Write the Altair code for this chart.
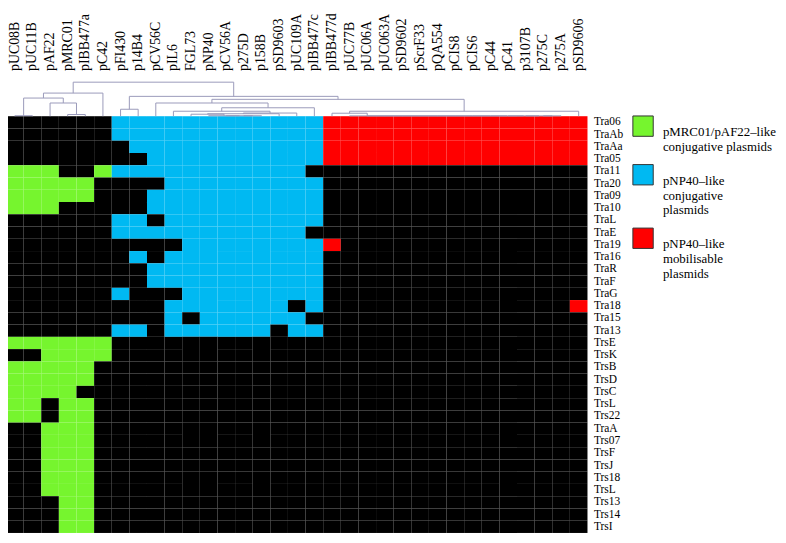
import altair as alt
import pandas as pd

columns = ["pUC08B", "pUC11B", "pAF22", "pMRC01", "pIBB477a", "pC42", "pFI430", "p14B4",
           "pCV56C", "pIL6", "FGL73", "pNP40", "pCV56A", "p275D", "p158B", "pSD9603",
           "pUC109A", "pIBB477c", "pIBB477d", "pUC77B", "pUC06A", "pUC063A", "pSD9602",
           "pScrF33", "pQA554", "pCIS8", "pCIS6", "pC44", "pC41", "p3107B", "p275C",
           "p275A", "pSD9606"]

rows = ["Tra06", "TraAb", "TraAa", "Tra05", "Tra11", "Tra20", "Tra09", "Tra10", "TraL",
        "TraE", "Tra19", "Tra16", "TraR", "TraF", "TraG", "Tra18", "Tra15", "Tra13",
        "TrsE", "TrsK", "TrsB", "TrsD", "TrsC", "TrsL", "Trs22", "TraA", "Trs07", "TrsF",
        "TrsJ", "Trs18", "TrsL", "Trs13", "Trs14", "TrsI"]

# K = absent, G = pMRC01/pAF22-like, B = pNP40-like conjugative, R = pNP40-like mobilisable
cells = [
    "KKKKKK" + "BBBBBBBBBBBB" + "RRRRRRRRRRRRRRR",
    "KKKKKK" + "BBBBBBBBBBBB" + "RRRRRRRRRRRRRRR",
    "KKKKKK" + "KBBBBBBBBBBB" + "RRRRRRRRRRRRRRR",
    "KKKKKK" + "KKBBBBBBBBBB" + "RRRRRRRRRRRRRRR",
    "GGGKKG" + "BBBBBBBBBBBK" + "KKKKKKKKKKKKKKK",
    "GGGGGK" + "KKKBBBBBBBBB" + "KKKKKKKKKKKKKKK",
    "GGGGGK" + "KKBBBBBBBBBB" + "KKKKKKKKKKKKKKK",
    "GGGKKK" + "KKBBBBBBBBBB" + "KKKKKKKKKKKKKKK",
    "KKKKKK" + "BBKBBBBBBBBB" + "KKKKKKKKKKKKKKK",
    "KKKKKK" + "BBBBBBBBBBBK" + "KKKKKKKKKKKKKKK",
    "KKKKKK" + "KKKKBBBBBBBB" + "RKKKKKKKKKKKKKK",
    "KKKKKK" + "KBKBBBBBBBBB" + "KKKKKKKKKKKKKKK",
    "KKKKKK" + "KKBBBBBBBBBB" + "KKKKKKKKKKKKKKK",
    "KKKKKK" + "KKBBBBBBBBBB" + "KKKKKKKKKKKKKKK",
    "KKKKKK" + "BKKKBBBBBBBB" + "KKKKKKKKKKKKKKK",
    "KKKKKK" + "KKKBBBBBBBKB" + "KKKKKKKKKKKKKKR",
    "KKKKKK" + "KKKBKBBBBBBK" + "KKKKKKKKKKKKKKK",
    "KKKKKK" + "BBKBBBBBBKBB" + "KKKKKKKKKKKKKKK",
    "GGGGGG" + "KKKKKKKKKKKK" + "KKKKKKKKKKKKKKK",
    "KKGGGG" + "KKKKKKKKKKKK" + "KKKKKKKKKKKKKKK",
    "GGGGGK" + "KKKKKKKKKKKK" + "KKKKKKKKKKKKKKK",
    "GGGGGK" + "KKKKKKKKKKKK" + "KKKKKKKKKKKKKKK",
    "GGGGKK" + "KKKKKKKKKKKK" + "KKKKKKKKKKKKKKK",
    "GGKGGK" + "KKKKKKKKKKKK" + "KKKKKKKKKKKKKKK",
    "GGKGGK" + "KKKKKKKKKKKK" + "KKKKKKKKKKKKKKK",
    "KKGGGK" + "KKKKKKKKKKKK" + "KKKKKKKKKKKKKKK",
    "KKGGGK" + "KKKKKKKKKKKK" + "KKKKKKKKKKKKKKK",
    "KKGGGK" + "KKKKKKKKKKKK" + "KKKKKKKKKKKKKKK",
    "KKGGGK" + "KKKKKKKKKKKK" + "KKKKKKKKKKKKKKK",
    "KKGGGK" + "KKKKKKKKKKKK" + "KKKKKKKKKKKKKKK",
    "KKGGGK" + "KKKKKKKKKKKK" + "KKKKKKKKKKKKKKK",
    "KKKGGK" + "KKKKKKKKKKKK" + "KKKKKKKKKKKKKKK",
    "KKKGGK" + "KKKKKKKKKKKK" + "KKKKKKKKKKKKKKK",
    "KKKGGK" + "KKKKKKKKKKKK" + "KKKKKKKKKKKKKKK",
]

categories = ["pMRC01/pAF22–like|conjugative plasmids",
              "pNP40–like|conjugative|plasmids",
              "pNP40–like|mobilisable|plasmids",
              "absent"]
codes = ["G", "B", "R", "K"]
palette = ["#76F52E", "#00B9F2", "#FF0000", "#000000"]

# dendrogram merges: (node, left child, right child, height)
merges = [
    ("m01", "c0", "c1", 0.5),
    ("m34", "c3", "c4", 1.7),
    ("mB", "c2", "m34", 13.3),
    ("mA", "m01", "mB", 18.3),
    ("mL", "mA", "c5", 23.3),
    ("m67", "c6", "c7", 7.0),
    ("k3", "c13", "c14", 0.5),
    ("k2", "c12", "k3", 0.5),
    ("k1", "c11", "k2", 0.5),
    ("b1", "c10", "k1", 2.0),
    ("b2", "b1", "c15", 2.5),
    ("b3", "b2", "c16", 3.2),
    ("bZ", "c9", "b3", 5.0),
    ("bY", "bZ", "c17", 8.5),
    ("bR", "c8", "bY", 13.3),
    ("g12", "c30", "c31", 0.4),
    ("g11", "c29", "g12", 0.4),
    ("g10", "c28", "g11", 0.4),
    ("g9", "c27", "g10", 0.4),
    ("g8", "c26", "g9", 0.4),
    ("g7", "c25", "g8", 0.4),
    ("g6", "c24", "g7", 0.4),
    ("g5", "c23", "g6", 0.4),
    ("g4", "c22", "g5", 0.4),
    ("g3", "c21", "g4", 0.4),
    ("g2", "c20", "g3", 0.4),
    ("g1", "c19", "g2", 0.4),
    ("rg", "c18", "g1", 3.0),
    ("red", "rg", "c32", 5.0),
    ("BR", "bR", "red", 17.0),
    ("R", "m67", "BR", 20.0),
    ("root", "mL", "R", 34.3),
]

# ---- build tables ----
code_to_cat = dict(zip(codes, categories))
cell_records = []
for ri, line in enumerate(cells):
    for ci, ch in enumerate(line):
        cell_records.append({"col": columns[ci], "ri": ri, "cat": code_to_cat[ch]})
cells_df = pd.DataFrame(cell_records)

pos = {f"c{i}": i + 0.5 for i in range(len(columns))}
hgt = {f"c{i}": 0.0 for i in range(len(columns))}
segs = []
for node, a, b, h in merges:
    xa, xb = pos[a], pos[b]
    pos[node] = (xa + xb) / 2
    hgt[node] = h
    segs.append({"x": xa, "x2": xb, "y": h, "y2": h})
    segs.append({"x": xa, "x2": xa, "y": hgt[a], "y2": h})
    segs.append({"x": xb, "x2": xb, "y": hgt[b], "y2": h})
segs_df = pd.DataFrame(segs)

W = 586
DH = 35
H = DH + 420
serif = "Liberation Serif"
row_expr = "[" + ",".join(f"'{r}'" for r in rows) + "][datum.value]"

heat = alt.Chart(cells_df).mark_rect().encode(
    x=alt.X("col:N", sort=columns, title=None,
            scale=alt.Scale(paddingInner=0, paddingOuter=0),
            axis=alt.Axis(orient="top", labelAngle=270, labelAlign="left",
                          labelBaseline="middle", labelFont=serif, labelFontSize=14,
                          labelColor="#000000", ticks=False, domain=False,
                          labelPadding=11, labelOverlap=False, labelLimit=0)),
    y=alt.Y("ri:O", title=None,
            scale=alt.Scale(range=[DH, H], paddingInner=0, paddingOuter=0),
            axis=alt.Axis(orient="right", labelExpr=row_expr, labelFont=serif,
                          labelFontSize=11.5, labelColor="#000000", ticks=False,
                          domain=False, labelPadding=6, labelOverlap=False,
                          labelLimit=0)),
    color=alt.Color("cat:N",
                    scale=alt.Scale(domain=categories, range=palette),
                    legend=alt.Legend(orient="none", legendX=631, legendY=DH - 1,
                                      values=categories[:3], title=None,
                                      symbolType="square", symbolSize=420,
                                      symbolStrokeColor="#333333", symbolStrokeWidth=1,
                                      symbolOpacity=1,
                                      labelExpr="split(datum.label, '|')",
                                      labelFont=serif, labelFontSize=13,
                                      labelColor="#000000", labelLimit=0,
                                      labelOffset=9, rowPadding=8,
                                      labelBaseline="top")),
)

dendro = alt.Chart(segs_df).mark_rule(color="#9A9ABA", strokeWidth=1).encode(
    x=alt.X("x:Q", scale=alt.Scale(domain=[0, len(columns)], nice=False, zero=False),
            axis=None),
    x2="x2:Q",
    y=alt.Y("y:Q", scale=alt.Scale(domain=[0, DH], range=[DH, 0], nice=False),
            axis=None),
    y2="y2:Q",
)

chart = alt.layer(heat, dendro).resolve_scale(x="independent", y="independent").properties(
    width=W, height=H,
    autosize=alt.AutoSizeParams(type="none"),
    padding={"left": -2, "top": 72, "right": 192, "bottom": 0},
).configure_view(strokeWidth=0)

chart.save("out.html", embed_options={"renderer": "svg", "actions": False})
